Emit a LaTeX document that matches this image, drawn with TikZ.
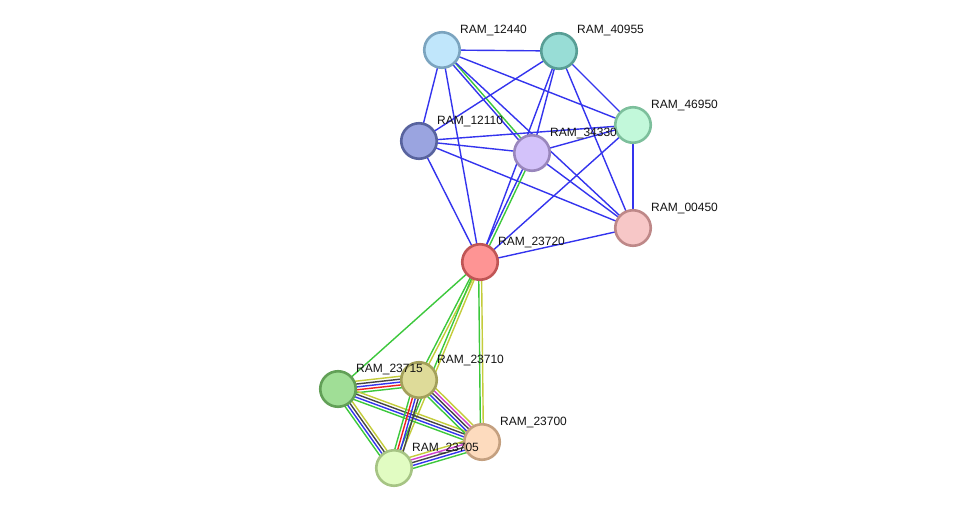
\documentclass[tikz,border=0pt]{standalone}
\usepackage{fontspec}
\newfontfamily\labfont{Liberation Sans}
\usetikzlibrary{calc,backgrounds}
\definecolor{sblue}{HTML}{3434EE}
\definecolor{sgreen}{HTML}{3CC83C}
\definecolor{syellow}{HTML}{C4CC3A}
\definecolor{sblack}{HTML}{454545}
\definecolor{sred}{HTML}{F02020}
\definecolor{smagenta}{HTML}{D040D0}
\definecolor{f12440}{HTML}{C0E6FB}\definecolor{d12440}{HTML}{7BA4BF}
\definecolor{f40955}{HTML}{98DDD6}\definecolor{d40955}{HTML}{589E95}
\definecolor{f46950}{HTML}{C2F8DA}\definecolor{d46950}{HTML}{7DBF9C}
\definecolor{f12110}{HTML}{9AA4E0}\definecolor{d12110}{HTML}{58639E}
\definecolor{f34330}{HTML}{D3C2FA}\definecolor{d34330}{HTML}{9986BC}
\definecolor{f00450}{HTML}{F7C7C7}\definecolor{d00450}{HTML}{BE8888}
\definecolor{f23720}{HTML}{FE9494}\definecolor{d23720}{HTML}{C05555}
\definecolor{f23715}{HTML}{A0DE96}\definecolor{d23715}{HTML}{62A057}
\definecolor{f23710}{HTML}{DEDB99}\definecolor{d23710}{HTML}{A3A05A}
\definecolor{f23700}{HTML}{FDDBBE}\definecolor{d23700}{HTML}{C4A080}
\definecolor{f23705}{HTML}{E1FCC2}\definecolor{d23705}{HTML}{A6C484}
\tikzset{
  prot/.style={circle, minimum size=35.5pt, inner sep=0pt, line width=2.6pt, fill=f#1, draw=d#1},
  lab/.style={font=\labfont\fontsize{12}{14}\selectfont, inner sep=0pt, anchor=base west, text=black!92},
  edge/.style={line width=1.4pt}
}
\newcommand{\mline}[4]{%
  \foreach \cc [count=\ii] in {#4} {%
    \pgfmathsetlengthmacro\off{(\ii-(#3+1)/2)*2.9pt}%
    \draw[edge,\cc] ($(#1.center)!\off!90:(#2.center)$) -- ($(#2.center)!\off!-90:(#1.center)$);
  }}
\begin{document}
\begin{tikzpicture}[x=1pt,y=-1pt]
\useasboundingbox (0,0) rectangle (975,514);
% nodes
\node[prot=12440] (n12440) at (442,50) {};
\node[prot=40955] (n40955) at (559,51) {};
\node[prot=46950] (n46950) at (633,125) {};
\node[prot=12110] (n12110) at (419,141) {};
\node[prot=34330] (n34330) at (532,153) {};
\node[prot=00450] (n00450) at (633,228) {};
\node[prot=23720] (n23720) at (480,262) {};
\node[prot=23715] (n23715) at (338,389) {};
\node[prot=23710] (n23710) at (419,380) {};
\node[prot=23700] (n23700) at (482,442) {};
\node[prot=23705] (n23705) at (394,468) {};
% labels
\foreach \n in {12440,40955,46950,12110,34330,00450,23720,23715,23710,23700,23705}
  \node[lab] (t\n) at ($(n\n.center)+(18,-17)$) {RAM\_\n};
% edges
\begin{pgfonlayer}{background}
\fill[white] (0,0) rectangle (975,514);
\mline{n12440}{n40955}{1}{sblue}
\mline{n12440}{n46950}{1}{sblue}
\mline{n12440}{n12110}{1}{sblue}
\mline{n12440}{n23720}{1}{sblue}
\mline{n12440}{n34330}{2}{sblue,sgreen}
\mline{n12440}{n00450}{1}{sblue}
\mline{n40955}{n12110}{1}{sblue}
\mline{n40955}{n34330}{1}{sblue}
\mline{n40955}{n46950}{1}{sblue}
\mline{n40955}{n00450}{1}{sblue}
\mline{n40955}{n23720}{1}{sblue}
\mline{n12110}{n34330}{1}{sblue}
\mline{n12110}{n46950}{1}{sblue}
\mline{n12110}{n00450}{1}{sblue}
\mline{n12110}{n23720}{1}{sblue}
\mline{n34330}{n46950}{1}{sblue}
\mline{n34330}{n00450}{1}{sblue}
\mline{n34330}{n23720}{2}{sblue,sgreen}
\mline{n46950}{n00450}{1}{sblue}
\mline{n46950}{n23720}{1}{sblue}
\mline{n00450}{n23720}{1}{sblue}
\mline{n23720}{n23715}{1}{sgreen}
\mline{n23720}{n23710}{2}{sgreen,syellow}
\mline{n23720}{n23705}{2}{sgreen,syellow}
\mline{n23720}{n23700}{2}{sgreen,syellow}
\mline{n23715}{n23710}{5}{sgreen,sred,sblue,sblack,syellow}
\mline{n23715}{n23700}{4}{sgreen,sblue,sblack,syellow}
\mline{n23715}{n23705}{4}{sgreen,sblue,sblack,syellow}
\mline{n23710}{n23705}{4}{sgreen,sred,sblue,sblack}
\mline{n23710}{n23700}{5}{sgreen,sblue,sblack,smagenta,syellow}
\mline{n23705}{n23700}{5}{sgreen,sblue,sblack,smagenta,syellow}
\end{pgfonlayer}
\end{tikzpicture}
\end{document}
